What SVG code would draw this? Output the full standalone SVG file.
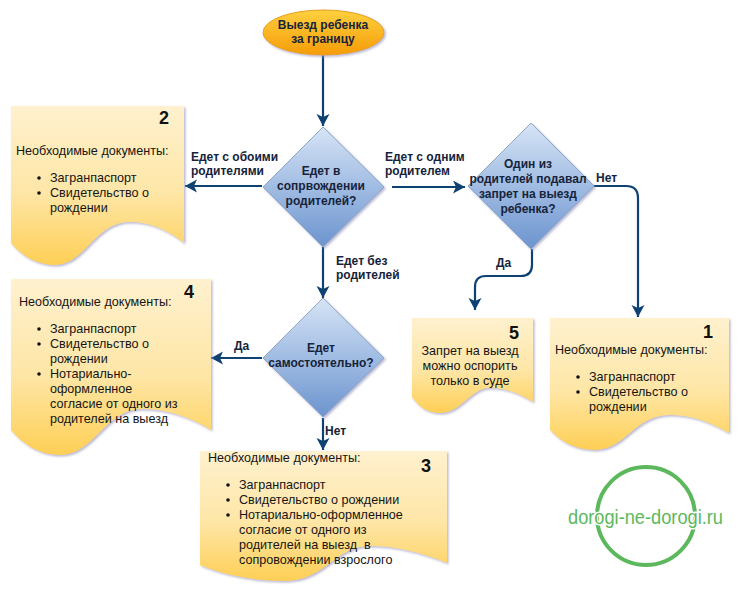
<svg xmlns="http://www.w3.org/2000/svg" width="739" height="597" viewBox="0 0 739 597">
<style>
text{font-family:"Liberation Sans",Arial,sans-serif;font-size:12.6px;fill:#151515;white-space:pre}
.b{font-size:12px;font-weight:bold;fill:#16233a}
.m{text-anchor:middle}
.n{font-weight:bold;font-size:18px;fill:#111;text-anchor:middle}
.doc{fill:url(#docg);filter:url(#sh)}
.dia{fill:url(#diag);stroke:#8ea6c6;stroke-width:1;filter:url(#sh)}
.c{fill:none;stroke:#0e4273;stroke-width:2.2}
.d{fill:#111}
</style>
<defs>
<linearGradient id="docg" x1="0" y1="0" x2="0" y2="1"><stop offset="0" stop-color="#fff1cf"/><stop offset="0.55" stop-color="#fee6a6"/><stop offset="1" stop-color="#fecf55"/></linearGradient>
<linearGradient id="diag" x1="0" y1="0" x2="0" y2="1"><stop offset="0" stop-color="#d6e4f6"/><stop offset="1" stop-color="#6c94cf"/></linearGradient>
<linearGradient id="ting" x1="0" y1="0" x2="0" y2="1"><stop offset="0" stop-color="#ffd040"/><stop offset="1" stop-color="#f59c08"/></linearGradient>
<filter id="sh" x="-5%" y="-5%" width="112%" height="112%"><feDropShadow dx="1.5" dy="1.5" stdDeviation="0.8" flood-color="#9a9ac0" flood-opacity="0.7"/></filter>
<marker id="a" markerUnits="userSpaceOnUse" markerWidth="14" markerHeight="14" refX="12" refY="6.5" orient="auto"><path d="M0 0L12 6.5L0 13L3 6.5Z" fill="#0e4273"/></marker>
</defs>
<g id="connectors">
<path class="c" marker-end="url(#a)" d="M323 55V126"/>
<path class="c" marker-end="url(#a)" d="M262 186H185"/>
<path class="c" marker-end="url(#a)" d="M392 187H465"/>
<path class="c" marker-end="url(#a)" d="M323 247V298"/>
<path class="c" marker-end="url(#a)" d="M262 358H211"/>
<path class="c" marker-end="url(#a)" d="M323 418V450"/>
<path class="c" marker-end="url(#a)" d="M532 249V265Q532 276 521 276H486Q475 276 475 287V310"/>
<path class="c" marker-end="url(#a)" d="M594 186H626Q638 186 638 198V317"/>
</g>
<g id="start">
<rect x="263" y="10" width="121" height="45" rx="60" ry="22.5" fill="url(#ting)" stroke="#e8a010" filter="url(#sh)"/>
<text class="b m" x="323" y="29">Выезд ребенка</text>
<text class="b m" x="323" y="43">за границу</text>
</g>
<g id="q1">
<path class="dia" d="M323 127L384 187L323 247L263 187Z"/>
<text class="b m" x="321" y="175">Едет в</text>
<text class="b m" x="321" y="190">сопрвождении</text>
<text class="b m" x="321" y="205">родителей?</text>
</g>
<g id="q2">
<path class="dia" d="M531 123L594 186L531 249L468 186Z"/>
<text class="b m" x="528" y="168">Один из</text>
<text class="b m" x="528" y="183">родителей подавал</text>
<text class="b m" x="528" y="198">запрет на выезд</text>
<text class="b m" x="528" y="213">ребенка?</text>
</g>
<g id="q3">
<path class="dia" d="M323 298L384 358L323 417L263 358Z"/>
<text class="b m" x="321" y="352">Едет</text>
<text class="b m" x="321" y="367">самостоятельно?</text>
</g>
<g id="doc2">
<path class="doc" d="M11 106H184V243C165 228 148 222 130 222C95 222 85 265 55 265C35 265 20 254 11 243Z"/>
<text class="n" x="164" y="124">2</text>
<text x="16" y="155">Необходимые документы:</text>
<circle class="d" cx="39" cy="178" r="1.8"/><text x="50" y="182">Загранпаспорт</text>
<circle class="d" cx="39" cy="193" r="1.8"/><text x="50" y="197">Свидетельство о</text>
<text x="50" y="212">рождении</text>
</g>
<g id="doc4">
<path class="doc" d="M11 279H211V430C188 416 165 409 142 409C105 409 95 455 60 455C38 455 22 443 11 430Z"/>
<text class="n" x="189" y="298">4</text>
<text x="19" y="306">Необходимые документы:</text>
<circle class="d" cx="39" cy="329" r="1.8"/><text x="50" y="333">Загранпаспорт</text>
<circle class="d" cx="39" cy="344" r="1.8"/><text x="50" y="348">Свидетельство о</text>
<text x="50" y="363">рождении</text>
<circle class="d" cx="39" cy="374" r="1.8"/><text x="50" y="378">Нотариально-</text>
<text x="50" y="393">оформленное</text>
<text x="50" y="408">согласие от одного из</text>
<text x="50" y="423">родителей на выезд</text>
</g>
<g id="doc3">
<path class="doc" d="M200 451H447V563C420 552 395 546 370 546C335 546 325 581 285 581C250 581 222 574 200 565Z"/>
<text class="n" x="426" y="472">3</text>
<text x="208" y="462">Необходимые документы:</text>
<circle class="d" cx="228" cy="485" r="1.8"/><text x="239" y="489">Загранпаспорт</text>
<circle class="d" cx="228" cy="500" r="1.8"/><text x="239" y="504">Свидетельство о рождении</text>
<circle class="d" cx="228" cy="515" r="1.8"/><text x="239" y="519">Нотариально-оформленное</text>
<text x="239" y="534">согласие от одного из</text>
<text x="239" y="549">родителей на выезд  в</text>
<text x="239" y="564">сопровождении взрослого</text>
</g>
<g id="doc5">
<path class="doc" d="M412 318H533V402C518 393 505 388 490 388C470 388 462 413 440 413C427 413 418 406 412 397Z"/>
<text class="n" x="514" y="339">5</text>
<text class="m" x="470" y="355">Запрет на выезд</text>
<text class="m" x="470" y="370">можно оспорить</text>
<text class="m" x="470" y="385">только в суде</text>
</g>
<g id="doc1">
<path class="doc" d="M550 318H729V433C708 421 690 415 670 415C635 415 625 450 595 450C575 450 560 441 550 430Z"/>
<text class="n" x="708" y="338">1</text>
<text x="555" y="354">Необходимые документы:</text>
<circle class="d" cx="578" cy="377" r="1.8"/><text x="589" y="381">Загранпаспорт</text>
<circle class="d" cx="578" cy="392" r="1.8"/><text x="589" y="396">Свидетельство о</text>
<text x="589" y="411">рождении</text>
</g>
<g id="labels">
<text class="b" x="191" y="161">Едет с обоими</text>
<text class="b" x="191" y="175">родителями</text>
<text class="b" x="385" y="161">Едет с одним</text>
<text class="b" x="385" y="175">родителем</text>
<text class="b" x="336" y="265">Едет без</text>
<text class="b" x="336" y="279">родителей</text>
<text class="b" x="496" y="267">Да</text>
<text class="b" x="596" y="182">Нет</text>
<text class="b" x="234" y="350">Да</text>
<text class="b" x="325" y="435">Нет</text>
</g>
<g id="watermark">
<circle cx="646" cy="516" r="49" fill="none" stroke="#5cb85c" stroke-width="4"/>
<text x="568" y="524" style="font-size:20px;fill:#5cb85c;stroke:#fff;stroke-width:3;paint-order:stroke" textLength="155" lengthAdjust="spacingAndGlyphs">dorogi-ne-dorogi.ru</text>
</g>
</svg>
